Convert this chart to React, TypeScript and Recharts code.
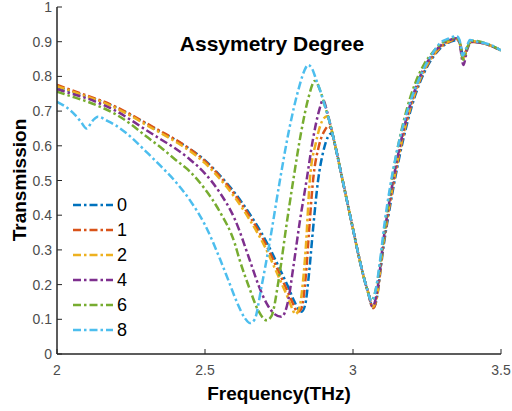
import React from 'react';
import { LineChart, Line, XAxis, YAxis } from 'recharts';

// frequency (THz) / transmission pairs for each asymmetry degree
const f0 = [2.00,2.05,2.10,2.15,2.20,2.25,2.30,2.35,2.40,2.45,2.50,2.55,2.60,2.65,2.70,2.75,2.78,2.80,2.815,2.826,2.838,2.85,2.865,2.882,2.90,2.915,2.928,2.94,2.96,2.98,3.00,3.02,3.04,3.055,3.062,3.068,3.075,3.085,3.09,3.10,3.12,3.15,3.18,3.21,3.24,3.27,3.30,3.33,3.352,3.362,3.373,3.385,3.40,3.45,3.50];
const t0 = [0.770,0.756,0.742,0.728,0.710,0.688,0.664,0.640,0.617,0.590,0.558,0.515,0.465,0.405,0.335,0.250,0.195,0.155,0.130,0.122,0.140,0.220,0.360,0.500,0.585,0.625,0.636,0.600,0.520,0.440,0.360,0.280,0.210,0.165,0.142,0.134,0.142,0.185,0.220,0.290,0.400,0.540,0.655,0.745,0.810,0.855,0.885,0.900,0.905,0.895,0.855,0.880,0.900,0.893,0.875];

const f1 = [2.00,2.05,2.10,2.15,2.20,2.25,2.30,2.35,2.40,2.45,2.50,2.55,2.60,2.65,2.70,2.75,2.78,2.80,2.812,2.825,2.84,2.852,2.865,2.885,2.905,2.918,2.93,2.94,2.96,2.98,3.00,3.02,3.04,3.055,3.062,3.068,3.075,3.085,3.09,3.10,3.12,3.15,3.18,3.21,3.24,3.27,3.30,3.33,3.35,3.36,3.372,3.385,3.40,3.45,3.50];
const t1 = [0.776,0.760,0.745,0.730,0.712,0.690,0.666,0.642,0.618,0.590,0.556,0.512,0.460,0.398,0.325,0.235,0.178,0.140,0.120,0.130,0.220,0.360,0.500,0.600,0.645,0.657,0.635,0.600,0.520,0.440,0.360,0.280,0.210,0.165,0.140,0.132,0.142,0.190,0.225,0.298,0.410,0.550,0.665,0.752,0.815,0.858,0.887,0.902,0.908,0.898,0.852,0.880,0.900,0.893,0.875];

const f2 = [2.00,2.05,2.10,2.15,2.20,2.25,2.30,2.35,2.40,2.45,2.50,2.55,2.60,2.65,2.70,2.75,2.78,2.795,2.805,2.818,2.83,2.84,2.854,2.875,2.895,2.912,2.925,2.94,2.96,2.98,3.00,3.02,3.04,3.055,3.061,3.067,3.074,3.085,3.09,3.10,3.12,3.15,3.18,3.21,3.24,3.27,3.30,3.33,3.35,3.36,3.372,3.385,3.40,3.45,3.50];
const t2 = [0.772,0.757,0.742,0.727,0.708,0.686,0.661,0.637,0.612,0.584,0.550,0.505,0.452,0.388,0.313,0.220,0.162,0.130,0.115,0.130,0.200,0.300,0.500,0.610,0.670,0.685,0.655,0.600,0.520,0.440,0.360,0.280,0.210,0.165,0.143,0.136,0.145,0.190,0.228,0.302,0.415,0.555,0.668,0.755,0.818,0.860,0.888,0.903,0.908,0.898,0.852,0.882,0.902,0.893,0.875];

const f4 = [2.00,2.05,2.10,2.15,2.20,2.25,2.30,2.35,2.40,2.45,2.50,2.55,2.60,2.651,2.68,2.71,2.735,2.758,2.78,2.80,2.82,2.843,2.865,2.885,2.899,2.912,2.925,2.94,2.96,2.98,3.00,3.02,3.04,3.055,3.060,3.066,3.073,3.083,3.09,3.10,3.12,3.15,3.18,3.21,3.24,3.27,3.30,3.33,3.35,3.36,3.373,3.385,3.40,3.45,3.50];
const t4 = [0.763,0.750,0.737,0.720,0.700,0.674,0.646,0.619,0.592,0.560,0.520,0.465,0.390,0.271,0.200,0.143,0.115,0.107,0.150,0.260,0.380,0.500,0.620,0.700,0.732,0.700,0.655,0.600,0.520,0.440,0.360,0.280,0.210,0.165,0.145,0.137,0.147,0.190,0.235,0.310,0.425,0.565,0.678,0.763,0.825,0.865,0.892,0.906,0.910,0.895,0.833,0.875,0.900,0.893,0.875];

const f6 = [2.00,2.05,2.10,2.15,2.20,2.25,2.30,2.35,2.40,2.45,2.50,2.55,2.60,2.617,2.65,2.68,2.708,2.725,2.75,2.775,2.798,2.825,2.85,2.871,2.89,2.905,2.92,2.94,2.96,2.98,3.00,3.02,3.04,3.05,3.057,3.062,3.068,3.078,3.09,3.108,3.125,3.15,3.18,3.21,3.24,3.27,3.30,3.33,3.35,3.36,3.372,3.385,3.40,3.45,3.50];
const t6 = [0.756,0.742,0.728,0.711,0.690,0.662,0.628,0.596,0.560,0.525,0.475,0.410,0.320,0.271,0.190,0.125,0.097,0.110,0.220,0.370,0.500,0.640,0.740,0.787,0.757,0.715,0.672,0.600,0.520,0.440,0.360,0.280,0.210,0.180,0.160,0.154,0.160,0.190,0.250,0.370,0.470,0.590,0.700,0.780,0.835,0.870,0.896,0.908,0.912,0.900,0.848,0.880,0.903,0.895,0.875];

const f8 = [2.00,2.03,2.06,2.08,2.10,2.12,2.138,2.17,2.20,2.25,2.30,2.35,2.40,2.45,2.50,2.55,2.58,2.61,2.635,2.652,2.668,2.69,2.72,2.753,2.785,2.815,2.835,2.848,2.862,2.875,2.89,2.905,2.92,2.94,2.96,2.98,3.00,3.02,3.04,3.05,3.057,3.062,3.068,3.078,3.09,3.108,3.125,3.147,3.17,3.192,3.22,3.249,3.27,3.294,3.32,3.35,3.36,3.37,3.382,3.395,3.42,3.45,3.48,3.50];
const t8 = [0.727,0.712,0.690,0.670,0.650,0.672,0.684,0.672,0.658,0.625,0.584,0.542,0.497,0.442,0.372,0.275,0.210,0.145,0.103,0.089,0.100,0.190,0.330,0.500,0.650,0.760,0.815,0.833,0.822,0.792,0.757,0.715,0.672,0.600,0.520,0.440,0.360,0.280,0.210,0.180,0.160,0.153,0.158,0.190,0.260,0.386,0.480,0.579,0.660,0.723,0.785,0.838,0.868,0.896,0.908,0.916,0.905,0.860,0.880,0.905,0.900,0.895,0.885,0.875];

const seriesNames = ['0', '1', '2', '4', '6', '8'];
const seriesColors = ['#0072BD', '#D95319', '#EDB120', '#7E2F8E', '#77AC30', '#4DBEEE'];
const freqs = [f0, f1, f2, f4, f6, f8];
const trans = [t0, t1, t2, t4, t6, t8];

const xTicks = [2, 2.5, 3, 3.5];
const yTicks = [0, 0.1, 0.2, 0.3, 0.4, 0.5, 0.6, 0.7, 0.8, 0.9, 1];

const FONT = '"Liberation Sans", Arial, sans-serif';
const AXIS = '#262626';
const TICK_TEXT = '#4d4d4d';
const DASH = '8 3 2.5 3';

// plot box edges (match chart margins / axis sizes below)
const TOP = 7;
const BOTTOM = 354;
const LEFT = 57;
const RIGHT = 501;

const BottomTick = (props: any) => (
  <g>
    <line x1={props.x} x2={props.x} y1={BOTTOM} y2={BOTTOM - 5} stroke={AXIS} />
    <text x={props.x} y={BOTTOM + 21} textAnchor="middle" fontSize={14} fontFamily={FONT} fill={TICK_TEXT}>
      {props.payload.value}
    </text>
  </g>
);

const TopTick = (props: any) => (
  <line x1={props.x} x2={props.x} y1={TOP} y2={TOP + 5} stroke={AXIS} />
);

const LeftTick = (props: any) => (
  <g>
    <line x1={LEFT} x2={LEFT + 5} y1={props.y} y2={props.y} stroke={AXIS} />
    <text x={LEFT - 5} y={props.y + 5} textAnchor="end" fontSize={14} fontFamily={FONT} fill={TICK_TEXT}>
      {props.payload.value}
    </text>
  </g>
);

const RightTick = (props: any) => (
  <line x1={RIGHT} x2={RIGHT - 5} y1={props.y} y2={props.y} stroke={AXIS} />
);

export default function App() {
  const series = seriesNames.map((name, i) => ({
    name,
    color: seriesColors[i],
    data: freqs[i].map((x, j) => ({ x, y: trans[i][j] })),
  }));

  return (
    <div style={{ position: 'absolute', left: 0, top: 0, width: 512, height: 411, background: '#fff' }}>
      <LineChart width={512} height={411} margin={{ top: TOP, right: 512 - RIGHT, bottom: 0, left: 0 }}>
        <XAxis
          type="number"
          dataKey="x"
          domain={[2, 3.5]}
          ticks={xTicks}
          interval={0}
          allowDataOverflow
          height={411 - BOTTOM}
          tickLine={false}
          tick={<BottomTick />}
          axisLine={{ stroke: AXIS, strokeWidth: 1.5 }}
        />
        <XAxis
          xAxisId="top"
          orientation="top"
          type="number"
          dataKey="x"
          domain={[2, 3.5]}
          ticks={xTicks}
          interval={0}
          allowDataOverflow
          height={0}
          tickLine={false}
          tick={<TopTick />}
          axisLine={{ stroke: AXIS, strokeWidth: 1.5 }}
        />
        <YAxis
          type="number"
          domain={[0, 1]}
          ticks={yTicks}
          interval={0}
          allowDataOverflow
          width={LEFT}
          tickLine={false}
          tick={<LeftTick />}
          axisLine={{ stroke: AXIS, strokeWidth: 1.5 }}
        />
        <YAxis
          yAxisId="right"
          orientation="right"
          type="number"
          domain={[0, 1]}
          ticks={yTicks}
          interval={0}
          allowDataOverflow
          width={0}
          tickLine={false}
          tick={<RightTick />}
          axisLine={{ stroke: AXIS, strokeWidth: 1.5 }}
        />
        {series.map(s => (
          <Line
            key={s.name}
            data={s.data}
            dataKey="y"
            name={s.name}
            type="monotone"
            stroke={s.color}
            strokeWidth={2.5}
            strokeDasharray={DASH}
            dot={false}
            isAnimationActive={false}
          />
        ))}
      </LineChart>

      <svg width={512} height={411} style={{ position: 'absolute', left: 0, top: 0, pointerEvents: 'none' }}>
        <text x={272} y={51} textAnchor="middle" fontSize={21} fontWeight="bold" fontFamily={FONT} fill="#000">
          Assymetry Degree
        </text>
        <text x={279} y={400} textAnchor="middle" fontSize={19} fontWeight="bold" fontFamily={FONT} fill="#000">
          Frequency(THz)
        </text>
        <text
          transform="translate(26,180) rotate(-90)"
          textAnchor="middle"
          fontSize={19}
          fontWeight="bold"
          fontFamily={FONT}
          fill="#000"
        >
          Transmission
        </text>
        {series.map((s, i) => (
          <g key={s.name}>
            <line
              x1={73}
              x2={113}
              y1={205 + i * 25}
              y2={205 + i * 25}
              stroke={s.color}
              strokeWidth={2.5}
              strokeDasharray={DASH}
            />
            <text x={117} y={211 + i * 25} fontSize={18} fontFamily={FONT} fill="#000">
              {s.name}
            </text>
          </g>
        ))}
      </svg>
    </div>
  );
}
